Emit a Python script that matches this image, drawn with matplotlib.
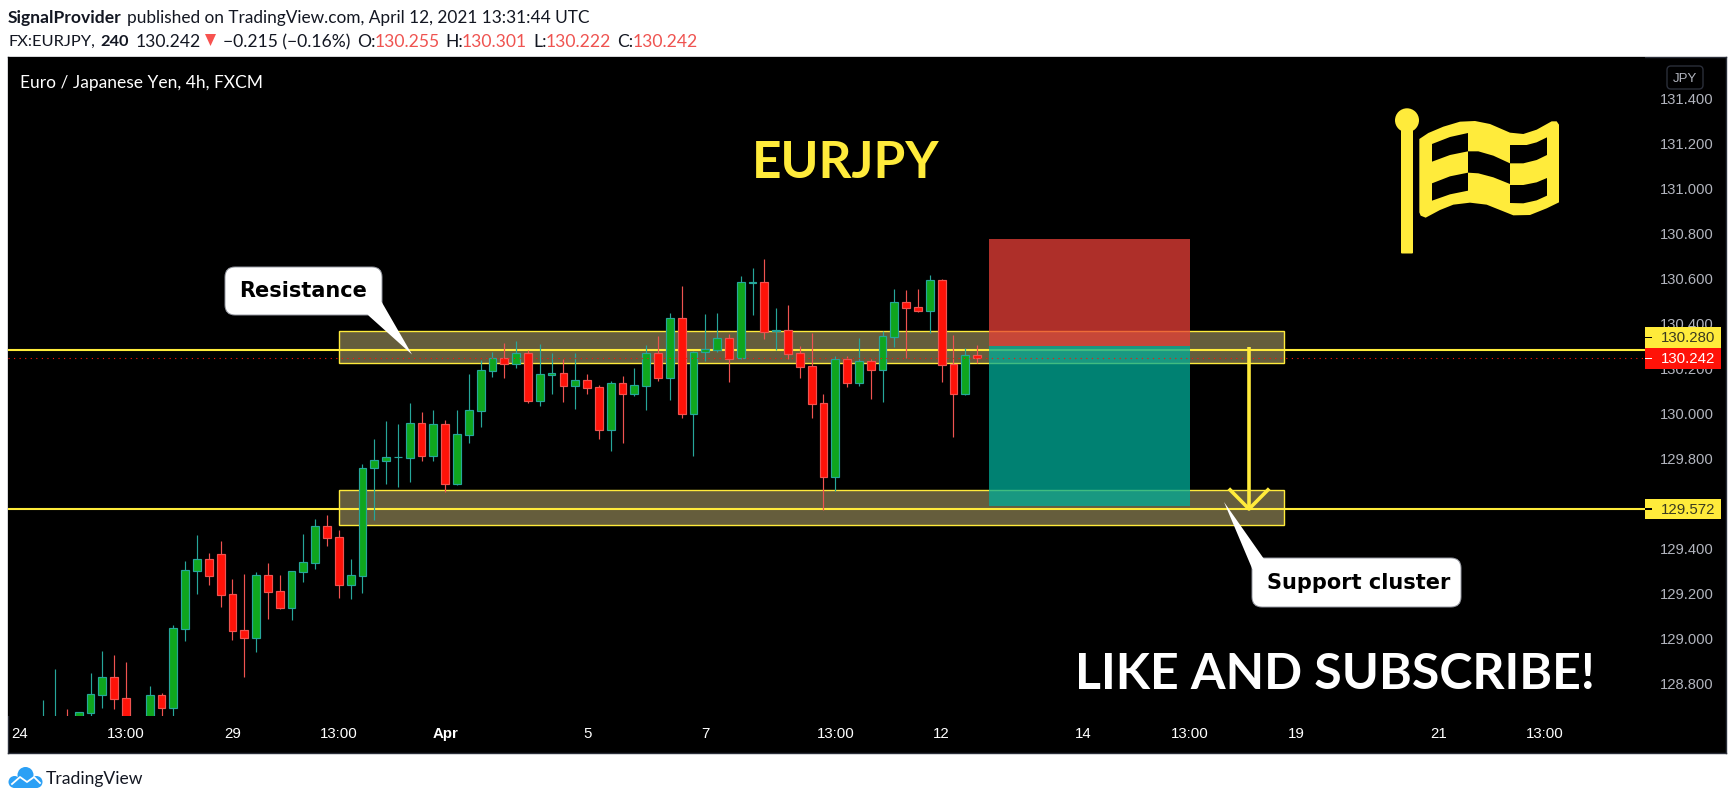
import matplotlib
matplotlib.use("Agg")
import matplotlib.pyplot as plt
from matplotlib.patches import Rectangle, Polygon, FancyBboxPatch, Circle

W, H = 1734, 803

# candles, 4h bars, bar index = position in list
opens = [128.58, 128.60, 128.64, 128.62, 128.667, 128.747, 128.824, 128.731, 128.62, 128.64,
         128.744, 128.689, 129.040, 129.298, 129.348, 129.371, 129.193, 129.033, 129.000, 129.277,
         129.206, 129.134, 129.294, 129.334, 129.495, 129.446, 129.236, 129.276, 129.753, 129.787,
         129.801, 129.800, 129.953, 129.809, 129.948, 129.685, 129.902, 130.009, 130.187, 130.242,
         130.218, 130.264, 130.054, 130.169, 130.175, 130.120, 130.144, 130.113, 129.925, 130.131,
         130.085, 130.120, 130.264, 130.156, 130.420, 129.996, 130.268, 130.280, 130.331, 130.242,
         130.578, 130.579, 130.363, 130.366, 130.264, 130.206, 130.042, 129.716, 130.237, 130.133,
         130.228, 130.191, 130.338, 130.491, 130.468, 130.454, 130.588, 130.215, 130.085, 130.255]
highs = [128.723, 128.861, 128.683, 128.670, 128.843, 128.941, 128.923, 128.892, 128.64, 128.785,
         128.754, 129.057, 129.341, 129.457, 129.377, 129.430, 129.261, 129.283, 129.292, 129.332,
         129.279, 129.295, 129.461, 129.528, 129.545, 129.479, 129.350, 129.772, 129.883, 129.963,
         129.950, 130.043, 130.003, 130.012, 129.968, 130.012, 130.172, 130.234, 130.271, 130.310,
         130.319, 130.279, 130.304, 130.265, 130.239, 130.265, 130.172, 130.123, 130.141, 130.163,
         130.199, 130.301, 130.341, 130.443, 130.563, 130.274, 130.439, 130.443, 130.350, 130.608,
         130.643, 130.683, 130.465, 130.479, 130.296, 130.356, 130.083, 130.251, 130.252, 130.332,
         130.239, 130.363, 130.550, 130.545, 130.550, 130.612, 130.594, 130.345, 130.288, 130.301]
lows = [128.55, 128.56, 128.58, 128.60, 128.64, 128.688, 128.683, 128.60, 128.56, 128.60,
        128.63, 128.63, 128.985, 129.194, 129.234, 129.137, 128.990, 128.825, 128.937, 129.083,
        129.128, 129.079, 129.248, 129.305, 129.408, 129.177, 129.172, 129.199, 129.523, 129.683,
        129.670, 129.694, 129.785, 129.785, 129.649, 129.680, 129.865, 129.937, 130.159, 130.154,
        130.199, 130.043, 130.030, 130.083, 130.048, 130.016, 130.083, 129.883, 129.830, 129.865,
        130.074, 130.012, 130.141, 130.057, 129.977, 129.808, 130.231, 130.271, 130.137, 130.239,
        130.434, 130.328, 130.279, 130.239, 130.154, 129.976, 129.568, 129.652, 130.114, 130.119,
        130.061, 130.048, 130.292, 130.243, 130.448, 130.354, 130.136, 129.892, 130.079, 130.222]
closes = [128.62, 128.63, 128.60, 128.668, 128.748, 128.824, 128.729, 128.63, 128.58, 128.744,
          128.689, 129.042, 129.300, 129.348, 129.276, 129.191, 129.031, 129.000, 129.277, 129.205,
          129.134, 129.295, 129.335, 129.495, 129.445, 129.236, 129.277, 129.753, 129.788, 129.802,
          129.802, 129.953, 129.809, 129.948, 129.685, 129.904, 130.011, 130.188, 130.242, 130.218,
          130.264, 130.054, 130.171, 130.175, 130.120, 130.144, 130.111, 129.925, 130.131, 130.085,
          130.122, 130.264, 130.156, 130.420, 129.996, 130.268, 130.282, 130.331, 130.240, 130.579,
          130.580, 130.360, 130.366, 130.262, 130.205, 130.040, 129.716, 130.237, 130.133, 130.228,
          130.191, 130.339, 130.491, 130.467, 130.454, 130.588, 130.213, 130.085, 130.255, 130.242]

price_ticks = [128.8, 129.0, 129.2, 129.4, 129.6, 129.8, 130.0, 130.2, 130.4, 130.6, 130.8, 131.0, 131.2, 131.4]
time_ticks = [-2, 7, 16, 25, 34, 46, 56, 67, 76, 88, 97, 106, 118, 127]
time_labels = ["24", "13:00", "29", "13:00", "Apr", "5", "7", "13:00", "12", "14", "13:00", "19", "21", "13:00"]

level_high = 130.280
level_low = 129.572
last_price = 130.242
resistance_zone = (130.220, 130.362)
support_zone = (129.502, 129.655)
zone_bars = (25, 105)
position_bars = (80, 97)
position_stop = 130.772
position_entry = 130.298
position_target = 129.587
arrow_bar = 102
arrow_from = 130.292
arrow_head = 129.657

UP = "#0FA61E"
DOWN = "#FF1208"
UP_LINE = "#26A69A"
DOWN_LINE = "#EF5350"
YELLOW = "#FFEB3B"

fig = plt.figure(figsize=(W / 100, H / 100), dpi=100, facecolor="white")


def box(left, top, right, bottom):
    return [left / W, 1 - bottom / H, (right - left) / W, (bottom - top) / H]


pane = fig.add_axes(box(8, 58, 1726, 754), facecolor="black", zorder=0)
pane.set_xticks([])
pane.set_yticks([])
for s in pane.spines.values():
    s.set_color("#2A2E39")
    s.set_linewidth(1)

ax = fig.add_axes(box(8, 58, 1645, 717), facecolor="black", zorder=1)
for s in ax.spines.values():
    s.set_visible(False)

# zones and levels sit under the candles
for lo, hi in [resistance_zone, support_zone]:
    ax.add_patch(Rectangle((zone_bars[0], lo), zone_bars[1] - zone_bars[0], hi - lo, facecolor="#655D3C",
                           edgecolor=YELLOW, linewidth=1, zorder=1))
ax.axhline(level_high, color=YELLOW, lw=1.5, zorder=2)
ax.axhline(level_low, color=YELLOW, lw=1.5, zorder=2)

# short position box
ax.add_patch(Rectangle((position_bars[0], position_entry), position_bars[1] - position_bars[0],
                       position_stop - position_entry, facecolor="#E94037", alpha=0.75, linewidth=0, zorder=3))
ax.add_patch(Rectangle((position_bars[0], position_target), position_bars[1] - position_bars[0],
                       position_entry - position_target, facecolor="#00AD99", alpha=0.75, linewidth=0, zorder=3))

xs = list(range(len(opens)))
is_up = [c >= o for o, c in zip(opens, closes)]
ax.vlines(xs, lows, highs, colors=[UP_LINE if u else DOWN_LINE for u in is_up], linewidth=0.85, zorder=4)
ax.bar(xs, [c - o for o, c in zip(opens, closes)], bottom=opens, width=0.66,
       color=[UP if u else DOWN for u in is_up],
       edgecolor=[UP_LINE if u else DOWN_LINE for u in is_up], linewidth=0.85, zorder=5)

ax.axhline(last_price, color="#FF1208", lw=0.8, ls=(0, (1, 4)), zorder=6)

# target arrow
ax.plot([arrow_bar, arrow_bar], [arrow_from, level_low], color=YELLOW, lw=2.6, zorder=7, solid_capstyle="butt")
ax.plot([arrow_bar - 1.6, arrow_bar, arrow_bar + 1.6], [arrow_head, level_low, arrow_head], color=YELLOW, lw=2.6,
        zorder=7)

ax.set_xlim(-2.986, 135.5)
ax.set_ylim(130.28 - (717 - 350.7) / 225, 130.28 + (350.7 - 58) / 225)

ax.set_xticks(time_ticks)
ax.set_xticklabels(time_labels, fontfamily="Liberation Sans", fontsize=10.8, color="white")
ax.yaxis.tick_right()
ax.set_yticks(price_ticks)
ax.set_yticklabels([f"{p:.3f}" for p in price_ticks], fontfamily="Liberation Sans", fontsize=10.6, color="#B2B5BE")
ax.tick_params(axis="x", length=0, pad=7.5)
ax.tick_params(axis="y", length=0, pad=10.8)
for lab in ax.get_xticklabels():
    if lab.get_text() == "Apr":
        lab.set_fontweight("bold")

# price tags on the scale
tags = [(130.335, f"{level_high:.3f}", YELLOW, "#3A3A20", "black"),
        (last_price, f"{last_price:.3f}", "#FF1208", "white", "white"),
        (level_low, f"{level_low:.3f}", YELLOW, "#3A3A20", "black")]
ytrans = ax.get_yaxis_transform()
axw = 1637
for pos, txt, bg, fg, dash in tags:
    ax.add_patch(Rectangle((1, pos - 0.0465), 76 / axw, 0.093, transform=ytrans, facecolor=bg, linewidth=0,
                           clip_on=False, zorder=8))
    ax.add_patch(Rectangle((1, pos - 0.003), 7 / axw, 0.006, transform=ytrans, facecolor=dash, linewidth=0,
                           clip_on=False, zorder=9))
    ax.text(1 + 15.5 / axw, pos, txt, transform=ytrans, color=fg, fontsize=10.8, family="Liberation Sans", va="center",
            ha="left", clip_on=False, zorder=9)

# overlay in pixels for furniture
ov = fig.add_axes([0, 0, 1, 1], zorder=3)
ov.set_xlim(0, W)
ov.set_ylim(H, 0)
ov.axis("off")
ov.patch.set_alpha(0)

FONT = "Lato"
hdr = 12.6
ov.text(8, 18, "SignalProvider", fontfamily=FONT, fontweight="bold", fontsize=hdr, color="#131722", va="center")
ov.text(127, 18, "published on TradingView.com, April 12, 2021 13:31:44 UTC", fontfamily=FONT, fontsize=12.4,
        color="#131722", va="center")
ov.text(8, 42, "FX:EURJPY,", fontfamily=FONT, fontsize=11.8, color="#131722", va="center")
ov.text(100, 42, "240", fontfamily=FONT, fontweight="bold", fontsize=11.8, color="#131722", va="center")
ov.text(136, 42, "130.242", fontfamily=FONT, fontsize=hdr, color="#131722", va="center")
ov.add_patch(Polygon([(205, 35), (216, 35), (210.5, 47)], closed=True, facecolor="#F7524F", linewidth=0))
ov.text(223, 42, "\u22120.215 (\u22120.16%)", fontfamily=FONT, fontsize=hdr, color="#131722", va="center")
for x, s, col in [(357, "O:", "#131722"), (375, "130.255", "#EF5350"), (445, "H:", "#131722"), (462, "130.301", "#EF5350"),
                  (533, "L:", "#131722"), (546, "130.222", "#EF5350"), (617, "C:", "#131722"), (633, "130.242", "#EF5350")]:
    ov.text(x, 42, s, fontfamily=FONT, fontsize=hdr, color=col, va="center")

ov.text(20, 83, "Euro / Japanese Yen, 4h, FXCM", fontfamily=FONT, fontsize=12.5, color="white", va="center")
ov.text(845.5, 164, "EURJPY", fontfamily=FONT, fontsize=37, color=YELLOW, ha="center", va="center", fontweight="bold")
ov.text(1335, 675, "LIKE AND SUBSCRIBE!", fontfamily=FONT, fontsize=36, color="white", ha="center", va="center",
        fontweight="bold")

# JPY button
ov.add_patch(FancyBboxPatch((1670, 70), 30, 17, boxstyle="round,pad=3,rounding_size=4", facecolor="black",
                            edgecolor="#2A2E39", linewidth=1))
ov.text(1685, 78.5, "JPY", fontfamily="Liberation Sans", fontsize=9.5, color="#B2B5BE", ha="center", va="center")


# callouts
def callout(left, top, right, bottom, tail, label, tx, ty):
    ov.add_patch(FancyBboxPatch((left + 10, top + 10), right - left - 20, bottom - top - 20,
                                boxstyle="round,pad=10,rounding_size=10", facecolor="white", edgecolor="#9598A1",
                                linewidth=0.7, zorder=10))
    ov.add_patch(Polygon(tail, closed=True, facecolor="white", linewidth=0, zorder=11))
    ov.text(tx, ty, label, fontfamily="DejaVu Sans", fontweight="bold", fontsize=15, color="black", ha="center",
            va="center", zorder=12)


callout(225, 268, 382, 316, [(381.7, 303), (412, 355.5), (369, 317), (360, 306)], "Resistance", 303, 291)
callout(1252, 559, 1461, 608, [(1224, 503), (1264, 560), (1270, 570), (1252.3, 570)], "Support cluster", 1359, 583)


# flag, points at 3x around (1360, 60)
def fp(pts):
    return [(1360 + a / 3, 60 + b / 3) for a, b in pts]


outer = [(178, 240), (205, 222), (250, 203), (300, 188), (345, 186), (390, 195), (450, 221), (490, 225), (530, 212),
         (575, 187), (590, 187), (597, 197), (597, 430), (560, 448), (510, 468), (460, 469), (420, 453), (380, 437),
         (330, 431), (280, 437), (240, 453), (197, 476), (182, 470), (178, 460)]
cells = [[(216, 255), (270, 234), (324, 222), (324, 277), (270, 288), (216, 308)],
         [(324, 277), (355, 277), (400, 290), (450, 313), (450, 375), (400, 355), (355, 343), (324, 341)],
         [(216, 373), (270, 352), (324, 341), (324, 395), (270, 406), (216, 425)],
         [(450, 258), (500, 258), (530, 250), (561, 235), (561, 288), (530, 303), (490, 313), (450, 313)],
         [(450, 378), (490, 378), (530, 370), (561, 357), (561, 410), (530, 424), (490, 433), (450, 432)]]
ov.add_patch(Polygon(fp(outer), closed=True, facecolor=YELLOW, linewidth=0))
for c in cells:
    ov.add_patch(Polygon(fp(c), closed=True, facecolor="black", linewidth=0))
ov.add_patch(Circle((1407, 121.3), 12, facecolor=YELLOW, linewidth=0))
ov.add_patch(FancyBboxPatch((1402, 125), 10, 128.5, boxstyle="round,pad=1,rounding_size=1", facecolor=YELLOW, linewidth=0))

# TradingView logo
BLUE = "#2BA0F5"
ov.add_patch(Circle((25.5, 776), 8, facecolor=BLUE, linewidth=0))
ov.add_patch(Circle((14.5, 783), 6, facecolor=BLUE, linewidth=0))
ov.add_patch(Circle((36.5, 783), 6, facecolor=BLUE, linewidth=0))
ov.add_patch(Rectangle((14.5, 780), 22, 9, facecolor=BLUE, linewidth=0))
ov.plot([12, 20, 27, 34, 40], [785, 778, 783, 778, 784], color="white", lw=1.3)
ov.text(46, 779, "TradingView", fontfamily=FONT, fontsize=12.6, color="#131722", va="center")

fig.savefig("out.png", dpi=100)
